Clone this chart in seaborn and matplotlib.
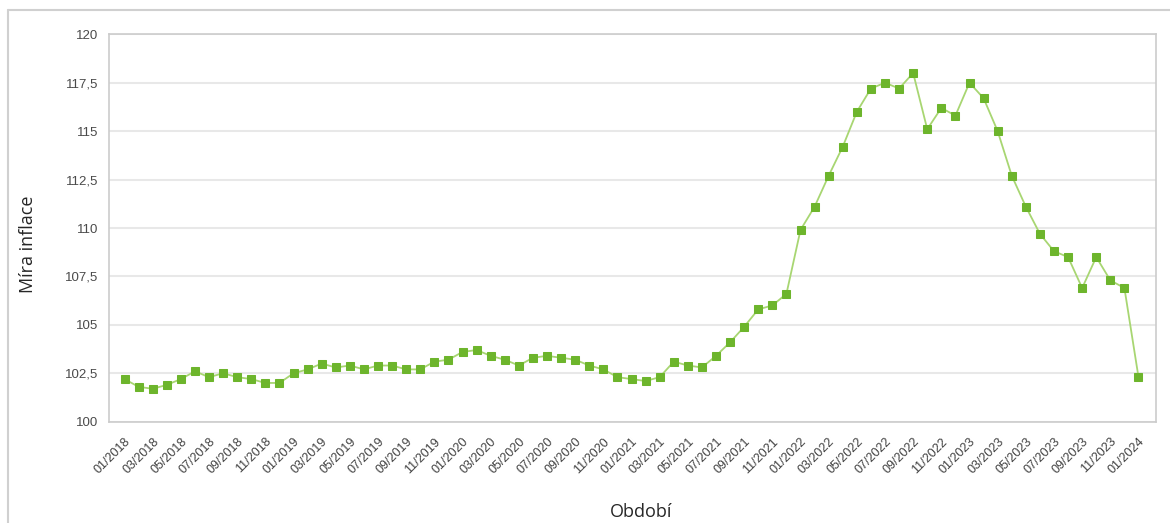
import seaborn as sns
import matplotlib.pyplot as plt
import matplotlib.lines as mlines
import pandas as pd

# Míra inflace (stejné období předchozího roku = 100), 01/2018 - 01/2024
inflace = [
    102.2, 101.8, 101.7, 101.9, 102.2, 102.6, 102.3, 102.5, 102.3, 102.2, 102.0, 102.0,
    102.5, 102.7, 103.0, 102.8, 102.9, 102.7, 102.9, 102.9, 102.7, 102.7, 103.1, 103.2,
    103.6, 103.7, 103.4, 103.2, 102.9, 103.3, 103.4, 103.3, 103.2, 102.9, 102.7, 102.3,
    102.2, 102.1, 102.3, 103.1, 102.9, 102.8, 103.4, 104.1, 104.9, 105.8, 106.0, 106.6,
    109.9, 111.1, 112.7, 114.2, 116.0, 117.2, 117.5, 117.2, 118.0, 115.1, 116.2, 115.8,
    117.5, 116.7, 115.0, 112.7, 111.1, 109.7, 108.8, 108.5, 106.9, 108.5, 107.3, 106.9,
    102.3,
]
obdobi = ['%02d/%d' % (m, y) for y in range(2018, 2025) for m in range(1, 13)][:len(inflace)]
y_ticks = [100, 102.5, 105, 107.5, 110, 112.5, 115, 117.5, 120]
y_labels = ['100', '102,5', '105', '107,5', '110', '112,5', '115', '117,5', '120']

df = pd.DataFrame({'idx': range(len(inflace)), 'obdobi': obdobi, 'inflace': inflace})

sns.set_style('white')
plt.rcParams['font.family'] = ['Liberation Sans', 'DejaVu Sans']

fig = plt.figure(figsize=(11.7, 5.23), dpi=100)
ax = fig.add_axes([0.0932, 0.1937, 0.8948, 0.7407])

sns.lineplot(data=df, x='idx', y='inflace', ax=ax, color='#a8d672', linewidth=1.3,
             marker='s', markersize=6.2, markerfacecolor='#6db52c',
             markeredgecolor='#6db52c', zorder=3)

ax.set_xlim(-1.1, len(inflace) - 1 + 1.24)
ax.set_ylim(100, 120)
ax.set_yticks(y_ticks)
ax.set_yticklabels(y_labels, fontsize=9.5, color='#4a4a4a')
ax.set_xticks(df['idx'])
ax.set_xticklabels([l if i % 2 == 0 else '' for i, l in enumerate(obdobi)],
                   rotation=45, ha='right', rotation_mode='anchor',
                   fontsize=9, color='#404040')
ax.tick_params(axis='both', length=4, width=1, color='#c8c8c8', pad=4)
ax.tick_params(axis='x', pad=6)

ax.yaxis.grid(True, color='#e8e8e8', linewidth=1.5)
ax.set_axisbelow(True)
for s in ax.spines.values():
    s.set_color('#cccccc')
    s.set_linewidth(1.2)

ax.set_xlabel('')
ax.set_ylabel('')
fig.text(0.0239, 0.533, 'Míra inflace', rotation=90, ha='center', va='center',
         fontsize=13, family=['Open Sans', 'DejaVu Sans'])
fig.text(0.548, 0.021, 'Období', ha='center', va='center',
         fontsize=13, family=['Open Sans', 'DejaVu Sans'])

# outer frame
fig.add_artist(mlines.Line2D([0.0068, 1.0], [0.981, 0.981], color='#d0d0d0', linewidth=1.5))
fig.add_artist(mlines.Line2D([0.0068, 0.0068], [0.0, 0.981], color='#d0d0d0', linewidth=1.5))

fig.savefig('out.png', dpi=100)
